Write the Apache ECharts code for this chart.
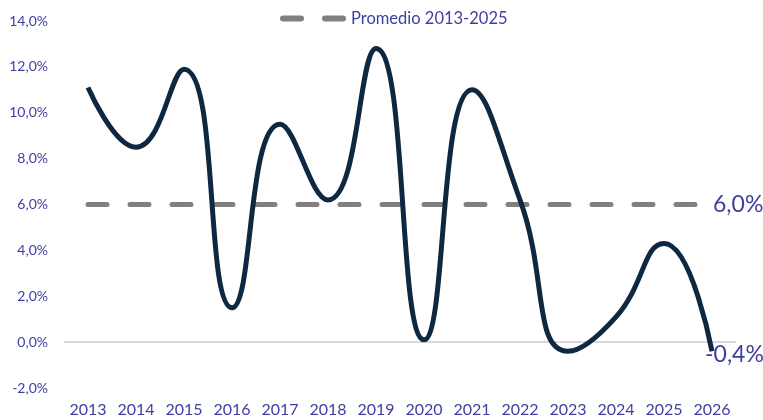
<!DOCTYPE html>
<html>
<head>
<meta charset="utf-8">
<script src="https://cdn.jsdelivr.net/npm/echarts@6/dist/echarts.min.js"></script>
<style>
html, body { margin: 0; padding: 0; background: #fff; }
#chart-container { width: 763px; height: 420px; }
</style>
</head>
<body>
<div id="chart-container"></div>
<script>
// data
var years = ['2013', '2014', '2015', '2016', '2017', '2018', '2019', '2020', '2021', '2022', '2023', '2024', '2025', '2026'];
var growth = [11.1, 8.5, 11.9, 1.5, 9.5, 6.2, 12.8, 0.1, 11.0, 6.2, -0.4, 1.1, 4.3, -0.4];
var average = [6.0, 6.0, 6.0, 6.0, 6.0, 6.0, 6.0, 6.0, 6.0, 6.0, 6.0, 6.0, 6.0, 6.0];
var averageName = 'Promedio 2013-2025';

var textColor = '#3f3f9f';
var fmt = function (v) { return v.toFixed(1).replace('.', ',') + '%'; };

var dom = document.getElementById('chart-container');
var myChart = echarts.init(dom, null, { renderer: 'canvas' });

var option = {
	animation: false,
	textStyle: {
		fontFamily: 'Lato',
		color: textColor
	},
	legend: {
		top: 5,
		left: 275,
		itemWidth: 66,
		itemHeight: 6,
		itemGap: 10,
		textStyle: {
			fontSize: 16.5,
			color: textColor,
			fontFamily: 'Lato'
		},
		data: [{
			name: averageName,
			icon: 'path://M3,0 L21,0 A3,3 0 0 1 21,6 L3,6 A3,3 0 0 1 3,0 Z M45,0 L63,0 A3,3 0 0 1 63,6 L45,6 A3,3 0 0 1 45,0 Z'
		}]
	},
	grid: {
		top: 21,
		left: 64,
		right: 27,
		bottom: 32
	},
	xAxis: {
		type: 'category',
		data: years,
		boundaryGap: true,
		axisLine: { show: false },
		axisTick: { show: false },
		axisLabel: {
			interval: 0,
			fontSize: 16,
			color: textColor,
			margin: 14
		}
	},
	yAxis: {
		type: 'value',
		min: -2,
		max: 14,
		interval: 2,
		axisLine: { show: false },
		axisTick: { show: false },
		splitLine: { show: false },
		axisLabel: {
			fontSize: 14,
			color: textColor,
			margin: 16,
			formatter: fmt
		}
	},
	series: [
		{
			name: 'Crecimiento',
			type: 'line',
			data: growth,
			smooth: 0.5,
			showSymbol: false,
			z: 3,
			lineStyle: {
				color: '#0e2841',
				width: 5
			},
			endLabel: {
				show: true,
				formatter: function (p) { return fmt(p.value); },
				fontSize: 23,
				color: textColor,
				offset: [-15, 3]
			},
			markLine: {
				silent: true,
				symbol: 'none',
				label: { show: false },
				lineStyle: {
					color: '#d9d9d9',
					width: 2,
					type: 'solid'
				},
				data: [{ yAxis: 0 }],
				z: 1
			}
		},
		{
			name: averageName,
			type: 'line',
			data: average,
			showSymbol: false,
			z: 2,
			itemStyle: { color: '#808080' },
			lineStyle: {
				color: '#808080',
				width: 5,
				type: [19, 23],
				cap: 'round'
			},
			endLabel: {
				show: true,
				formatter: function (p) { return fmt(p.value); },
				fontSize: 23,
				color: textColor,
				offset: [-7, 0]
			}
		}
	]
};

myChart.setOption(option);
window.addEventListener('resize', myChart.resize);
</script>
</body>
</html>
